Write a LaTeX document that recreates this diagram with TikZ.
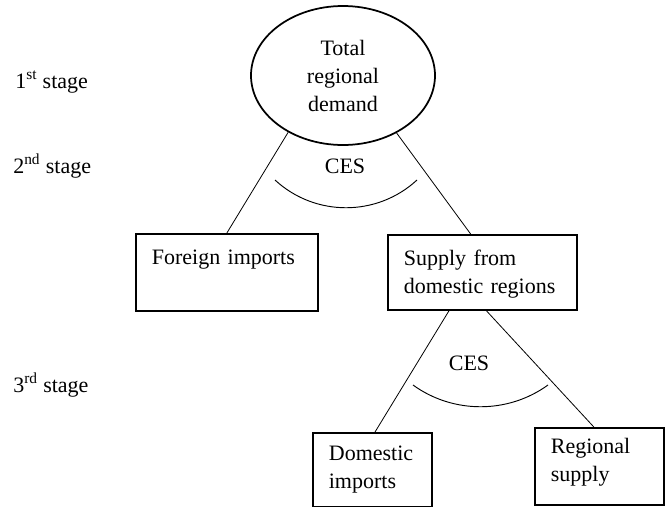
\documentclass[tikz,border=0pt]{standalone}
\usepackage{fontspec}
\setmainfont{Liberation Serif}
\usetikzlibrary{shapes.geometric}
\begin{document}
\begin{tikzpicture}[x=0.75pt,y=-0.75pt,
  every node/.style={font=\fontsize{16.5pt}{21pt}\selectfont, text=black},
  box/.style={draw, line width=1.3pt, rectangle, anchor=north west,
    inner xsep=12pt, inner ysep=0pt, align=left},
  oval/.style={draw, line width=1.3pt, ellipse, inner sep=0pt, align=center},
  lbl/.style={inner sep=0pt},
  conn/.style={line width=0.6pt},
  arcline/.style={line width=0.7pt}]
\useasboundingbox (0,0) rectangle (665,507);

% stage labels
\node[lbl, anchor=base west] (s1) at (15,88) {1\textsuperscript{st} stage};
\node[lbl, anchor=base west] (s2) at (13,173) {2\textsuperscript{nd} stage};
\node[lbl, anchor=base west] (s3) at (13,392) {3\textsuperscript{rd} stage};

% top ellipse
\node[oval, minimum width=138pt, minimum height=104.25pt] (te) at (343,75.5) {Total\\regional\\demand};

% second stage boxes
\node[box, text width=112.5pt, text height=23.25pt, text depth=34.5pt] (fi) at (135,233) {Foreign imports};
\node[box, text width=117.75pt, text height=23.25pt, text depth=33pt] (sd) at (387,234) {Supply from\\domestic regions};

% third stage boxes
\node[box, text width=65.25pt, text height=21pt, text depth=34.5pt] (di) at (312,432) {Domestic\\imports};
\node[box, text width=72.75pt, text height=19.5pt, text depth=38.25pt] (rs) at (534,427) {Regional\\supply};

% CES labels
\node[lbl, anchor=base] (c1) at (345,173) {CES};
\node[lbl, anchor=base] (c2) at (469,370) {CES};

% connectors
\draw[conn] (te.226.7) -- (fi.north);
\draw[conn] (te.313.7) -- (sd.107);
\draw[conn] (sd.229.1) -- (di.86);
\draw[conn] (sd.276.8) -- (rs.98);

% CES arcs
\draw[arcline] (275,180) .. controls (315,217) and (377,217) .. (417,180);
\draw[arcline] (413,385) .. controls (453,414) and (508,414) .. (548,385);
\end{tikzpicture}
\end{document}
